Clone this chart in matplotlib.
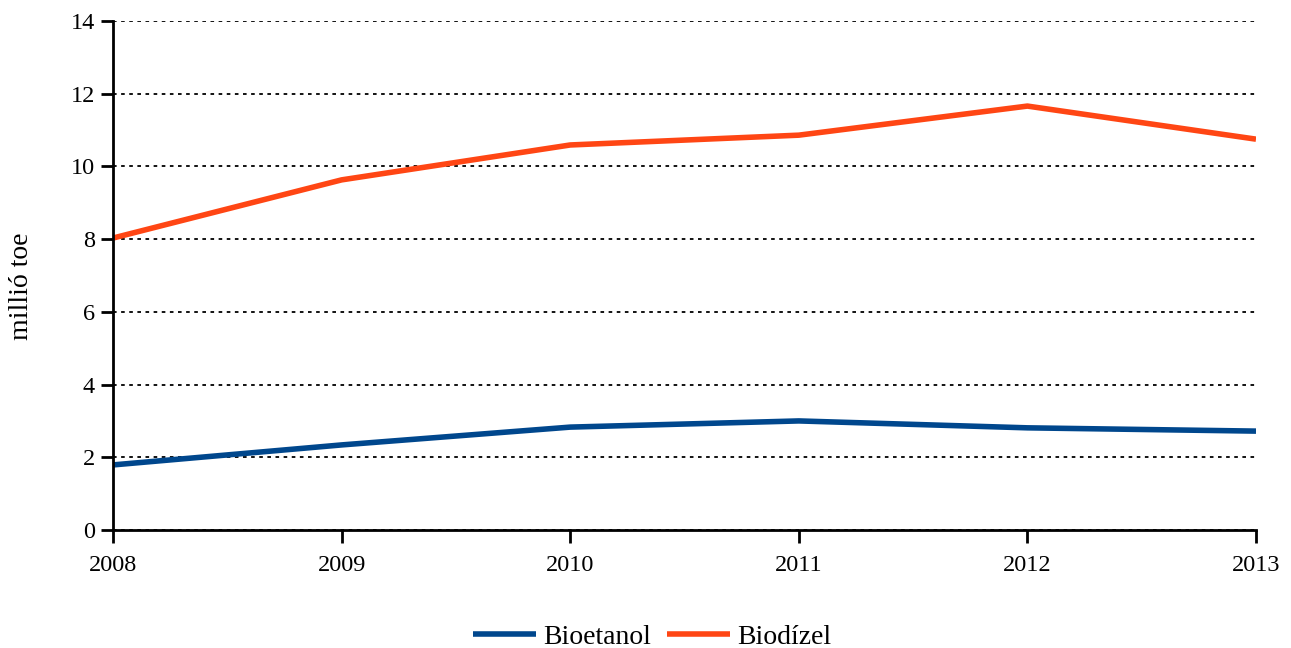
import matplotlib
matplotlib.use("Agg")
import matplotlib.pyplot as plt

years = [2008, 2009, 2010, 2011, 2012, 2013]
bioetanol = [1.79, 2.34, 2.83, 3.00, 2.81, 2.72]
biodizel = [8.03, 9.63, 10.59, 10.86, 11.66, 10.75]
yticks = [0, 2, 4, 6, 8, 10, 12, 14]

plt.rcParams['font.family'] = ['Liberation Serif', 'DejaVu Serif']

W, H = 1291, 648
fig = plt.figure(figsize=(W / 100, H / 100), dpi=100)
ax = fig.add_axes([113 / W, 1 - 530 / H, (1256 - 113) / W, (530 - 21) / H])

ax.plot(years, bioetanol, color='#00478D', lw=4, label='Bioetanol', solid_capstyle='butt')
ax.plot(years, biodizel, color='#FF4614', lw=4, label='Biodízel', solid_capstyle='butt')

ax.set_xlim(2008, 2013)
ax.set_ylim(0, 14)
ax.set_xticks(years)
ax.set_yticks(yticks)
ax.yaxis.grid(True, linestyle=(0, (2, 2.5)), color='black', lw=1.3)
ax.set_axisbelow(True)
for s in ['top', 'right']:
    ax.spines[s].set_visible(False)
for s in ['left', 'bottom']:
    ax.spines[s].set_linewidth(2)
ax.tick_params(axis='both', direction='out', length=9, width=2, labelsize=17.5, colors='black')
ax.tick_params(axis='x', pad=9)
ax.tick_params(axis='y', pad=4)

fig.text(22 / W, 1 - 286 / H, 'millió toe', rotation=90, fontsize=20,
         ha='center', va='center')

fig.legend(loc='center', bbox_to_anchor=(652 / W, 1 - 637 / H), ncol=2, frameon=False,
           fontsize=20, handlelength=2.3, columnspacing=0.55, handletextpad=0.25,
           borderpad=0, borderaxespad=0)

fig.savefig('out.png', dpi=100)
